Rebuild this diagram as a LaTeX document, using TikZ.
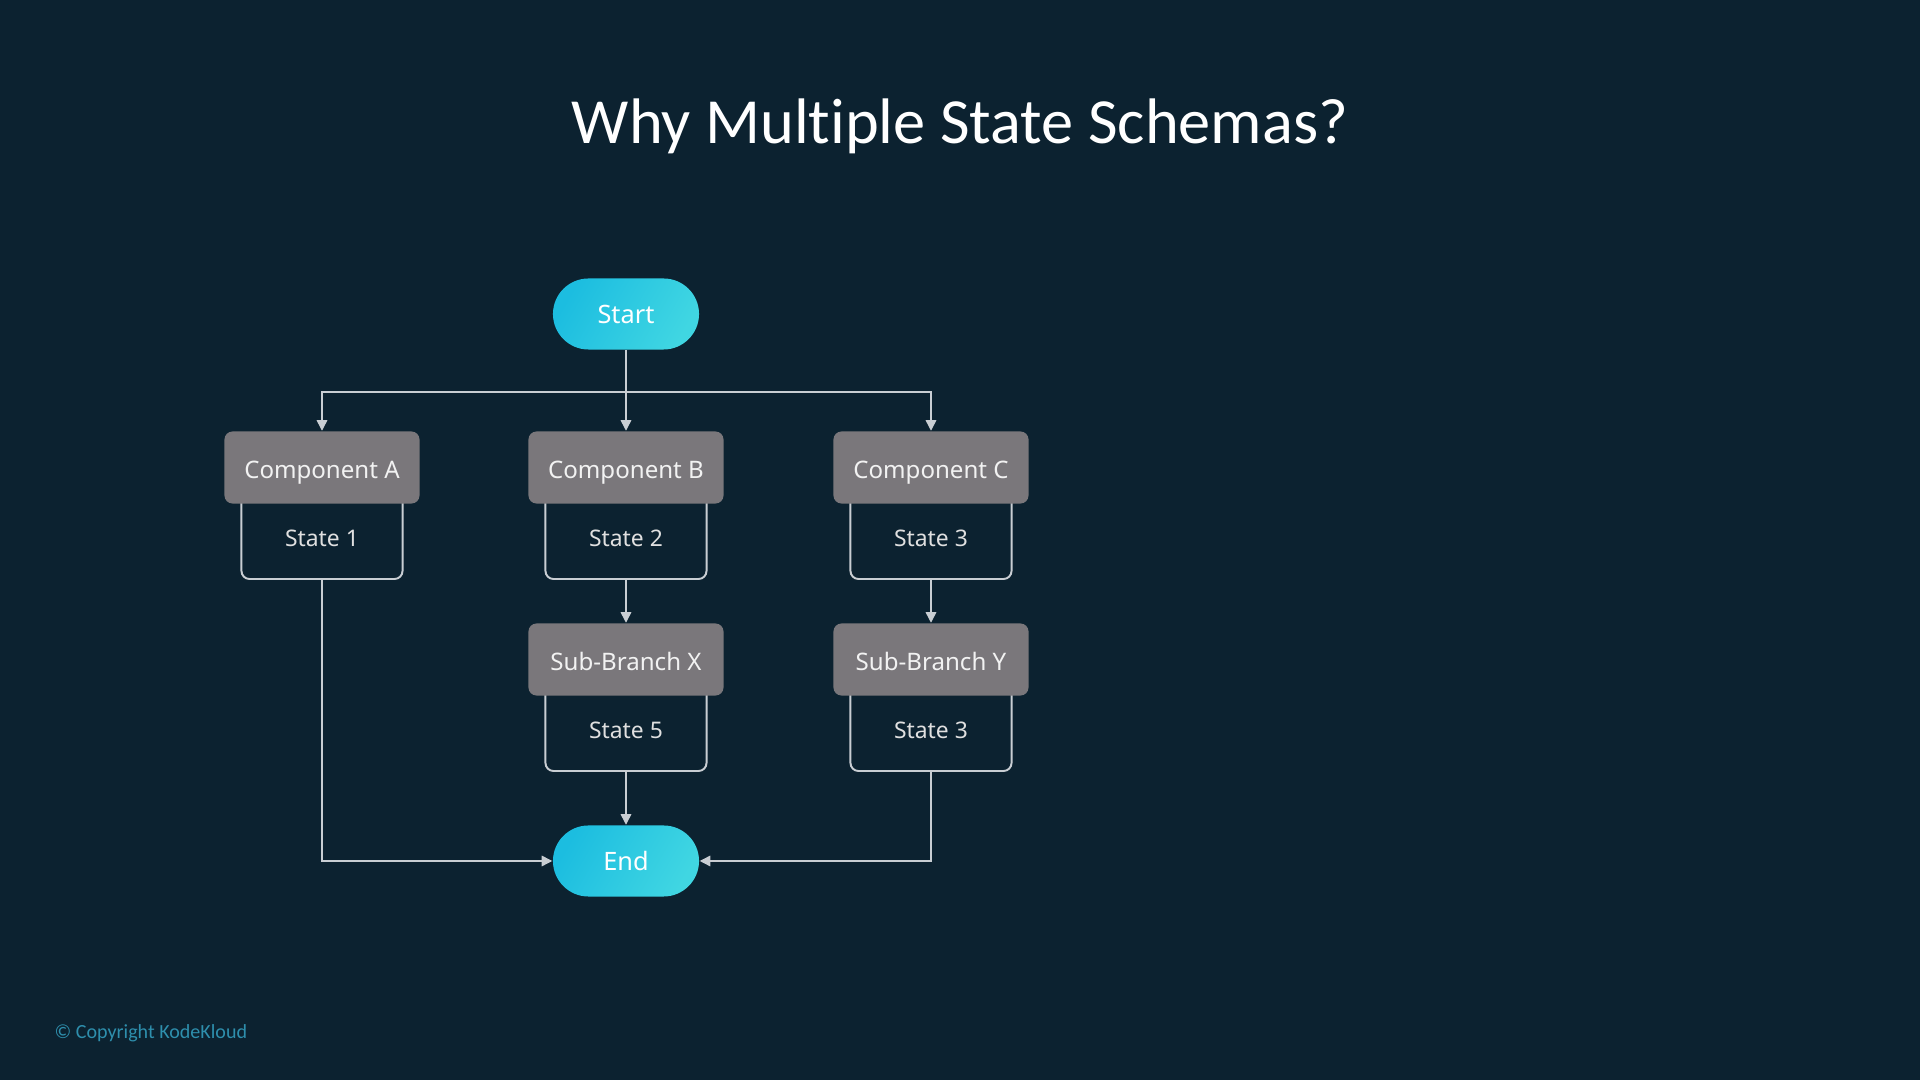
\documentclass[tikz,border=0pt]{standalone}
\usepackage{fontspec}
\setmainfont{Noto Sans}
\newfontfamily\titlefont{Carlito}[Ligatures={NoCommon}]
\usetikzlibrary{arrows.meta,shapes.misc}
\definecolor{bg}{HTML}{0C2230}
\definecolor{graybox}{HTML}{7A777B}
\definecolor{linec}{HTML}{C9CED3}
\definecolor{cyanA}{HTML}{1CBDE0}
\definecolor{cyanB}{HTML}{40D6E2}
\definecolor{copyc}{HTML}{2E8FAD}
\begin{document}
\begin{tikzpicture}[x=0.01cm,y=-0.01cm,
  pill/.style={rounded rectangle, minimum width=1.46cm, minimum height=0.71cm,
    left color=cyanA, right color=cyanB, shading angle=60, draw=none,
    text=white, font=\fontsize{7.2}{9}\selectfont, inner sep=0pt,
    text height=1.33ex, text depth=0.35ex},
  comp/.style={rectangle, rounded corners=2.3pt, fill=graybox, draw=none,
    minimum width=1.95cm, minimum height=0.72cm, text=white!95!black,
    font=\fontsize{6.85}{9}\selectfont, inner sep=0pt,
    text height=1.33ex, text depth=0.2ex},
  statebox/.style={rectangle, rounded corners=2.3pt, draw=linec, line width=0.55pt,
    minimum width=1.61cm, minimum height=0.84cm, text=white!88!black,
    font=\fontsize{6.5}{8}\selectfont, inner sep=0pt,
    text height=1.33ex, text depth=0.3ex},
  conn/.style={draw=linec, line width=0.4pt},
  arr/.style={conn, -{Triangle[length=3pt,width=3pt]}}
]
\fill[bg] (0,0) rectangle (1920,1080);
\useasboundingbox (0,0) rectangle (1920,1080);

\node[text=white, font=\titlefont\fontsize{18.3}{22}\selectfont] (title) at (960,126) {Why Multiple State Schemas?};

\node[pill] (start) at (626,314) {Start};

% state boxes (drawn first, tops hidden behind grey boxes)
\node[statebox] (s1) at (322,537) {State 1};
\node[statebox] (s2) at (626,537) {State 2};
\node[statebox] (s3) at (931,537) {State 3};
\node[statebox] (s5) at (626,729) {State 5};
\node[statebox] (s3b) at (931,729) {State 3};

\node[comp] (ca) at (322,467.5) {Component A};
\node[comp] (cb) at (626,467.5) {Component B};
\node[comp] (cc) at (931,467.5) {Component C};
\node[comp] (sx) at (626,659.5) {Sub-Branch X};
\node[comp] (sy) at (931,659.5) {Sub-Branch Y};

\node[pill] (end) at (626,861) {End};

\coordinate (split) at (626,392);
\draw[conn] (start.south) -- (split);
\draw[arr] (split) -| (ca.north);
\draw[arr] (split) -- (cb.north);
\draw[arr] (split) -| (cc.north);
\draw[arr] (s2.south) -- (sx.north);
\draw[arr] (s3.south) -- (sy.north);
\draw[arr] (s5.south) -- (end.north);
\draw[arr] (s1.south) |- (end.west);
\draw[arr] (s3b.south) |- (end.east);

\node[anchor=west, text=copyc, font=\titlefont\fontsize{5.7}{7}\selectfont, inner sep=0pt] (copy) at (54,1033) {© Copyright KodeKloud};
\end{tikzpicture}
\end{document}
